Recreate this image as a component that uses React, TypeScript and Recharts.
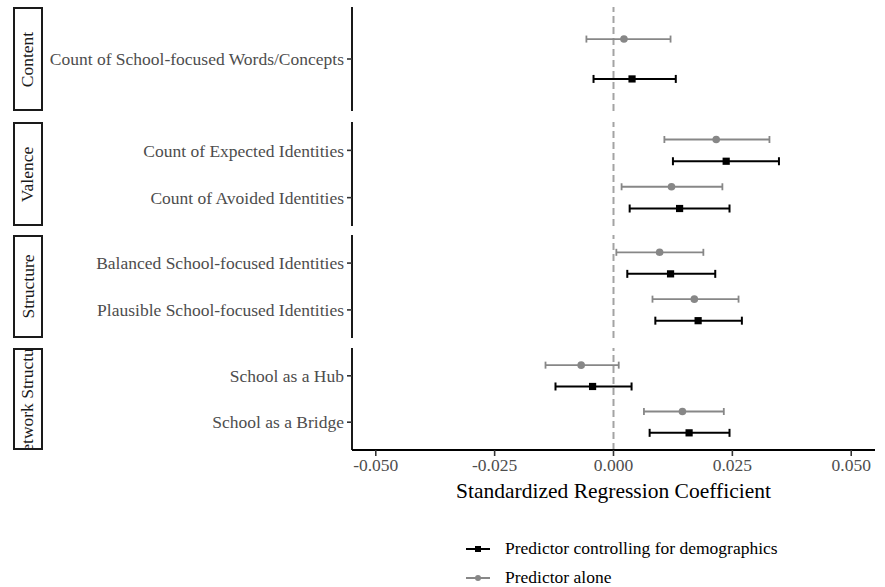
import { ScatterChart, Scatter, XAxis, YAxis, ErrorBar, ReferenceLine, Legend } from 'recharts'

// facets (strip labels) and the predictors inside each one
const facets = ['Content', 'Valence', 'Structure', 'Network Structure']
const predictors = [
  'Count of School-focused Words/Concepts',
  'Count of Expected Identities',
  'Count of Avoided Identities',
  'Balanced School-focused Identities',
  'Plausible School-focused Identities',
  'School as a Hub',
  'School as a Bridge',
]
const predictorFacet = [0, 1, 1, 2, 2, 3, 3]

// "Predictor alone"
const aloneEst = [0.0022, 0.0216, 0.0122, 0.0097, 0.017, -0.0068, 0.0145]
const aloneLow = [-0.0057, 0.0107, 0.0017, 0.0006, 0.0082, -0.0143, 0.0064]
const aloneHigh = [0.012, 0.0328, 0.0229, 0.0189, 0.0263, 0.0011, 0.0232]

// "Predictor controlling for demographics"
const adjEst = [0.0039, 0.0237, 0.0139, 0.012, 0.0178, -0.0044, 0.0159]
const adjLow = [-0.0042, 0.0125, 0.0034, 0.0029, 0.0088, -0.0122, 0.0076]
const adjHigh = [0.0131, 0.0348, 0.0244, 0.0214, 0.027, 0.0038, 0.0244]

const seriesNames = ['Predictor controlling for demographics', 'Predictor alone']
const xTicks = [-0.05, -0.025, 0, 0.025, 0.05]

const FONT = '"Liberation Serif", "Times New Roman", serif'
const GREY = '#878787'
const DODGE = 0.23
const panels = [
  { top: 7, h: 104 },
  { top: 122, h: 104 },
  { top: 235, h: 103 },
  { top: 348, h: 102 },
]
const AXIS_H = 52
const LEGEND_SPACE = 85

const squareShape = (p: any) => <rect x={p.cx - 3.6} y={p.cy - 3.6} width={7.2} height={7.2} fill="#000" />
const circleShape = (p: any) => <circle cx={p.cx} cy={p.cy} r={3.8} fill={GREY} />

const renderLegend = ({ payload }: any) => {
  const items = [...(payload || [])].sort((a: any, b: any) => seriesNames.indexOf(a.value) - seriesNames.indexOf(b.value))
  return (
    <div style={{ fontFamily: FONT, fontSize: 17.5, color: '#000' }}>
      {items.map((entry: any) => {
        const isAdj = entry.value === seriesNames[0]
        const c = isAdj ? '#000' : GREY
        return (
          <div key={entry.value} style={{ display: 'flex', alignItems: 'center', height: 29 }}>
            <svg width={30} height={12} style={{ marginRight: 13 }}>
              <line x1={4} y1={6} x2={28} y2={6} stroke={c} strokeWidth={2} />
              {isAdj ? <rect x={13} y={3} width={6} height={6} fill={c} /> : <circle cx={16} cy={6} r={3} fill={c} />}
            </svg>
            <span>{entry.value}</span>
          </div>
        )
      })}
    </div>
  )
}

function Facet({ index }: { index: number }) {
  const ids = predictors.map((_, i) => i).filter((i) => predictorFacet[i] === index)
  const n = ids.length
  const last = index === facets.length - 1
  const adjData = ids.map((i, k) => ({
    x: adjEst[i],
    y: k + 1 + DODGE,
    err: [adjEst[i] - adjLow[i], adjHigh[i] - adjEst[i]],
  }))
  const aloneData = ids.map((i, k) => ({
    x: aloneEst[i],
    y: k + 1 - DODGE,
    err: [aloneEst[i] - aloneLow[i], aloneHigh[i] - aloneEst[i]],
  }))
  const panel = panels[index]
  const height = last ? panel.h + AXIS_H + LEGEND_SPACE : panel.h

  return (
    <div style={{ position: 'absolute', left: 0, top: panel.top }}>
      <ScatterChart width={885} height={height} margin={{ top: 0, right: 10, bottom: last ? LEGEND_SPACE : 0, left: 0 }}>
        <XAxis
          type="number"
          dataKey="x"
          domain={[-0.055, 0.055]}
          allowDataOverflow
          ticks={xTicks}
          interval={0}
          tickFormatter={(v: number) => v.toFixed(3)}
          hide={!last}
          height={AXIS_H}
          axisLine={{ stroke: '#000', strokeWidth: 1.8 }}
          tickLine={{ stroke: '#333', strokeWidth: 1.6 }}
          tickSize={6}
          tickMargin={3}
          tick={{ fill: '#4d4d4d', fontSize: 17.5, fontFamily: FONT }}
          label={{ value: 'Standardized Regression Coefficient', position: 'insideBottom', offset: 4, fill: '#000', fontSize: 21.5, fontFamily: FONT }}
        />
        <YAxis
          type="number"
          dataKey="y"
          domain={[0.4, n + 0.6]}
          reversed
          allowDataOverflow
          ticks={ids.map((_, k) => k + 1)}
          interval={0}
          tickFormatter={(v: number) => predictors[ids[v - 1]] ?? ''}
          width={352}
          axisLine={{ stroke: '#000', strokeWidth: 1.8 }}
          tickLine={{ stroke: '#333', strokeWidth: 1.6 }}
          tickSize={5}
          tickMargin={3}
          tick={{ fill: '#4d4d4d', fontSize: 17.5, fontFamily: FONT }}
        />
        <ReferenceLine x={0} stroke="#a3a3a3" strokeWidth={2} strokeDasharray="7 4" />
        <Scatter name={seriesNames[0]} data={adjData} shape={squareShape} isAnimationActive={false}>
          <ErrorBar dataKey="err" direction="x" width={4} stroke="#000" strokeWidth={2} isAnimationActive={false} />
        </Scatter>
        <Scatter name={seriesNames[1]} data={aloneData} shape={circleShape} isAnimationActive={false}>
          <ErrorBar dataKey="err" direction="x" width={3.5} stroke={GREY} strokeWidth={1.8} isAnimationActive={false} />
        </Scatter>
        {last && (
          <Legend
            layout="vertical"
            align="center"
            verticalAlign="middle"
            content={renderLegend}
            wrapperStyle={{ left: 462, top: 186, width: 360, height: 'auto' }}
          />
        )}
      </ScatterChart>
    </div>
  )
}

export default function App() {
  return (
    <div style={{ position: 'absolute', left: 0, top: 0, width: 885, height: 587, background: '#fff', fontFamily: FONT, overflow: 'hidden' }}>
      {facets.map((f, i) => (
        <div
          key={f}
          style={{
            position: 'absolute',
            left: 13,
            top: panels[i].top,
            width: 30,
            height: panels[i].h,
            border: '2px solid #1a1a1a',
            boxSizing: 'border-box',
            overflow: 'hidden',
            display: 'flex',
            alignItems: 'center',
            justifyContent: 'center',
          }}
        >
          <span style={{ transform: 'rotate(-90deg)', whiteSpace: 'nowrap', fontSize: 17.5, color: '#1a1a1a', flexShrink: 0 }}>{f}</span>
        </div>
      ))}
      {facets.map((f, i) => (
        <Facet key={f} index={i} />
      ))}
    </div>
  )
}
